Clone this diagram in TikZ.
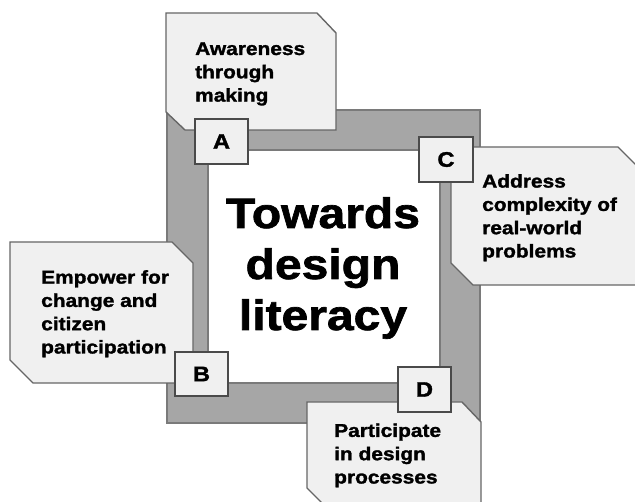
\documentclass[tikz,border=0pt]{standalone}
\usepackage{fontspec}
\newfontfamily\hf{Liberation Sans}[FakeStretch=1.13,FakeBold=1.6]
\begin{document}
\begin{tikzpicture}[x=1pt,y=-1pt,
  framefill/.style={fill=frameGray,draw=frameEdge,line width=1.2pt},
  callout/.style={fill=boxFill,draw=boxEdge,line width=1.4pt,line join=miter},
  tag/.style={fill=boxFill,draw=tagEdge,line width=1.2pt},
  tagtext/.style={font=\hf\bfseries\fontsize{21}{22}\selectfont,inner sep=0pt},
  bodytext/.style={font=\hf\bfseries\fontsize{18.5}{23.3}\selectfont,align=left,inner sep=0pt,anchor=base west},
  title/.style={font=\hf\bfseries\fontsize{42.5}{51}\selectfont,align=center,inner sep=0pt,anchor=base}]
\definecolor{frameGray}{HTML}{A6A6A6}
\definecolor{frameEdge}{HTML}{7A7A7A}
\definecolor{boxFill}{HTML}{F0F0F0}
\definecolor{boxEdge}{HTML}{666666}
\definecolor{tagEdge}{HTML}{4A4A4A}
\useasboundingbox (0,0) rectangle (635,502);
\clip (0,0) rectangle (635,502);

% square frame around the title
\draw[framefill] (167,110) rectangle (480,423);
\draw[fill=white,draw=frameEdge,line width=1.2pt] (208,150) rectangle (440,383);
\node[title] (t1) at (323,228) {Towards};
\node[title] (t2) at (323,279) {design};
\node[title] (t3) at (323,330) {literacy};

% chamfered callouts
\draw[callout] (166,13) -- (317,13) -- (336,33) -- (336,130) -- (185,130) -- (166,112) -- cycle;
\draw[callout] (451,147) -- (618,147) -- (640,169) -- (640,285) -- (473,285) -- (451,263) -- cycle;
\draw[callout] (10,242) -- (172,242) -- (193,263) -- (193,383) -- (33,383) -- (10,360) -- cycle;
\draw[callout] (307,402) -- (462,402) -- (481,422) -- (481,520) -- (339,520) -- (307,488) -- cycle;

% multi-line texts, placed by the baseline of their last line
\node[bodytext] (ta) at (195,101.6) {Awareness\\through\\making};
\node[bodytext] (tc) at (482,257.5) {Address\\complexity of\\real-world\\problems};
\node[bodytext] (tb) at (41,353.5) {Empower for\\change and\\citizen\\participation};
\node[bodytext] (td) at (334,483.5) {Participate\\in design\\processes};

% letter tags
\draw[tag] (195,119) rectangle (248,164);
\node[tagtext] (la) at (221.5,141.5) {A};
\draw[tag] (175,352) rectangle (228,396);
\node[tagtext] (lb) at (201.5,374) {B};
\draw[tag] (419,137) rectangle (473,182);
\node[tagtext] (lc) at (446,159.5) {C};
\draw[tag] (398,367) rectangle (451,412);
\node[tagtext] (ld) at (424.5,389.5) {D};
\end{tikzpicture}
\end{document}
